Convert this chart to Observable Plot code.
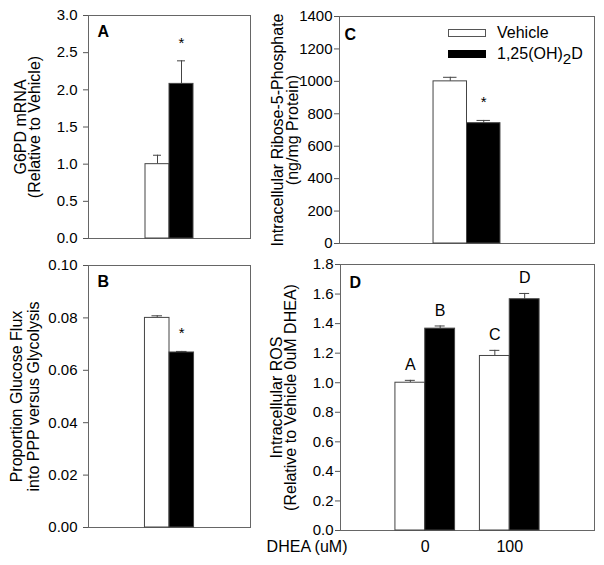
<!DOCTYPE html>
<html><head><meta charset="utf-8">
<script src="https://cdn.jsdelivr.net/npm/d3@7"></script>
<script src="https://cdn.jsdelivr.net/npm/@observablehq/plot@0.6"></script>
<style>
body{margin:0;background:#fff;}
#wrap{position:relative;width:604px;height:565px;font-family:"Liberation Sans",Arial,sans-serif;overflow:hidden;}
#wrap > svg, #wrap > div.pos {position:absolute;}
.legend{font-size:16px;color:#000;}
.legend .row{display:flex;align-items:center;height:21px;}
.legend .sw{width:36px;height:6px;border:1px solid #555;margin-right:11px;}
.legend sub{font-size:0.95em;vertical-align:-0.3em;line-height:0;}
</style></head><body><div id="wrap"></div>
<script>
// ---- shared categories ----
const treatments = ["Vehicle", "1,25(OH)2D"];
const treatmentColors = ["white", "black"];

// ---- Panel A: G6PD mRNA ----
const aValues = [1.00, 2.08];
const aErrors = [0.12, 0.31];
const aMarks = ["", "*"];
const aTicks = [0, 0.5, 1.0, 1.5, 2.0, 2.5, 3.0];

// ---- Panel B: glucose flux proportion ----
const bValues = [0.0800, 0.0668];
const bErrors = [0.0008, 0.0004];
const bMarks = ["", "*"];
const bTicks = [0, 0.02, 0.04, 0.06, 0.08, 0.10];

// ---- Panel C: ribose-5-phosphate ----
const cValues = [1000, 742];
const cErrors = [25, 17];
const cMarks = ["", "*"];
const cTicks = [0, 200, 400, 600, 800, 1000, 1200, 1400];

// ---- Panel D: ROS by DHEA dose ----
const doses = ["0", "100"];
const dVehicle = [1.000, 1.181];
const dVehicleErr = [0.016, 0.038];
const dTreated = [1.366, 1.565];
const dTreatedErr = [0.018, 0.039];
const dVehicleLetters = ["A", "C"];
const dTreatedLetters = ["B", "D"];
const dTicks = [0, 0.2, 0.4, 0.6, 0.8, 1.0, 1.2, 1.4, 1.6, 1.8];

const FONT = "'Liberation Sans', Arial, sans-serif";
const wrap = document.getElementById("wrap");

function ylabelMarks(lines, dxs) {
  return lines.map((t, i) => Plot.text([t], {
    frameAnchor: "left", rotate: -90, dx: dxs[i], lineAnchor: "bottom", textAnchor: "middle",
    fontSize: 16, fill: "black"
  }));
}

function place(plot, pos) {
  plot.style.left = pos[0] + "px";
  plot.style.top = pos[1] + "px";
  wrap.appendChild(plot);
}

function simplePanel(o) {
  const data = treatments.map((t, i) => ({t, v: o.values[i], e: o.values[i] + o.errors[i], s: o.marks[i]}));
  const plot = Plot.plot({
    width: o.width, height: o.height,
    marginLeft: o.m[0], marginRight: o.m[1], marginTop: o.m[2], marginBottom: o.m[3],
    style: {fontFamily: FONT, fontSize: "15px", color: "black", background: "transparent", overflow: "visible"},
    x: {domain: treatments, paddingInner: 0, paddingOuter: o.pad, round: false, axis: null},
    y: {domain: [o.ticks[0], o.ticks[o.ticks.length - 1]], axis: null},
    color: {domain: treatments, range: treatmentColors},
    marks: [
      Plot.frame({stroke: "#666"}),
      Plot.axisY(o.ticks, {tickSize: 5, tickPadding: o.tp, tickFormat: o.fmt, stroke: "#555", fill: "black", label: null}),
      Plot.ruleX(data, {x: "t", y1: "v", y2: "e", stroke: "#444"}),
      Plot.tickY(data, {x: "t", y: "e", stroke: "#444", insetLeft: o.cap, insetRight: o.cap}),
      Plot.barY(data, {x: "t", y: "v", fill: "t", stroke: "#444"}),
      Plot.text(data.filter(d => d.s), {x: "t", y: "e", text: "s", dy: -13, lineAnchor: "bottom", fontSize: 15}),
      Plot.text([o.letter], {frameAnchor: "top-left", dx: o.ld[0], dy: o.ld[1], lineAnchor: "top", textAnchor: "start", fontWeight: "bold", fontSize: 16}),
      ...ylabelMarks(o.ylabel, o.ydx)
    ]
  });
  place(plot, o.pos);
}

simplePanel({values: aValues, errors: aErrors, marks: aMarks, ticks: aTicks, fmt: d3.format(".1f"),
  width: 255, height: 260, m: [88, 5, 15, 22], pad: 2.375, cap: 8, tp: 6, pos: [0, 0],
  letter: "A", ld: [9, 10], ylabel: ["G6PD mRNA", "(Relative to Vehicle)"], ydx: [-63, -48.5]});

simplePanel({values: cValues, errors: cErrors, marks: cMarks, ticks: cTicks, fmt: d3.format("d"),
  width: 349, height: 260, m: [84, 10, 16, 17], pad: 2.81, cap: 10, tp: 2, pos: [255, 0],
  letter: "C", ld: [5, 12], ylabel: ["Intracellular Ribose-5-Phosphate", "(ng/mg Protein)"], ydx: [-57, -42]});

simplePanel({values: bValues, errors: bErrors, marks: bMarks, ticks: bTicks, fmt: d3.format(".2f"),
  width: 255, height: 315, m: [88, 5, 15, 38], pad: 2.3, cap: 7, tp: 6, pos: [0, 250],
  letter: "B", ld: [9, 10], ylabel: ["Proportion Glucose Flux", "into PPP versus Glycolysis"], ydx: [-66.5, -50]});

// Panel D: one band per DHEA dose, each split into a Vehicle half and a 1,25(OH)2D half
{
  const W = 349, H = 315, mL = 85, mR = 10, mT = 14, mB = 35;
  const padIn = 0.294, padOut = 0.65;
  const bw = d3.scaleBand().domain(doses).range([mL, W - mR]).paddingInner(padIn).paddingOuter(padOut).bandwidth();
  const half = bw / 2, q = bw / 4, capHalf = 5;
  const veh = doses.map((g, i) => ({g, v: dVehicle[i], e: dVehicle[i] + dVehicleErr[i], s: dVehicleLetters[i], t: treatments[0]}));
  const trt = doses.map((g, i) => ({g, v: dTreated[i], e: dTreated[i] + dTreatedErr[i], s: dTreatedLetters[i], t: treatments[1]}));
  const part = (data, side) => {
    const d = side * q;
    const near = q - capHalf, far = 3 * q - capHalf;
    return [
      Plot.ruleX(data, {x: "g", y1: "v", y2: "e", dx: d, stroke: "#444"}),
      Plot.tickY(data, {x: "g", y: "e", stroke: "#444", insetLeft: side < 0 ? near : far, insetRight: side < 0 ? far : near}),
      Plot.barY(data, {x: "g", y: "v", fill: "t", stroke: "#444", insetLeft: side > 0 ? half : 0, insetRight: side < 0 ? half : 0}),
      Plot.text(data, {x: "g", y: "e", text: "s", dx: d, dy: -10, lineAnchor: "bottom", fontSize: 16})
    ];
  };
  const plot = Plot.plot({
    width: W, height: H,
    marginLeft: mL, marginRight: mR, marginTop: mT, marginBottom: mB,
    style: {fontFamily: FONT, fontSize: "15px", color: "black", background: "transparent", overflow: "visible"},
    x: {domain: doses, paddingInner: padIn, paddingOuter: padOut, round: false, axis: null},
    y: {domain: [0, 1.8], axis: null},
    color: {domain: treatments, range: treatmentColors},
    marks: [
      Plot.frame({stroke: "#666"}),
      Plot.axisY(dTicks, {tickSize: 5, tickPadding: 2, tickFormat: d3.format(".1f"), stroke: "#555", fill: "black", label: null}),
      Plot.axisX({tickSize: 0, tickPadding: 10, fontSize: 16, label: null}),
      ...part(veh, -1),
      ...part(trt, 1),
      Plot.text(["D"], {frameAnchor: "top-left", dx: 9, dy: 12, lineAnchor: "top", textAnchor: "start", fontWeight: "bold", fontSize: 16}),
      Plot.text(["DHEA (uM)"], {frameAnchor: "bottom-left", dx: 7, dy: 10, lineAnchor: "top", textAnchor: "end", fontSize: 16}),
      ...ylabelMarks(["Intracellular ROS", "(Relative to Vehicle 0uM DHEA)"], [-59, -44.5])
    ]
  });
  place(plot, [255, 250]);
}

// Legend (inside panel C)
{
  const leg = document.createElement("div");
  leg.className = "pos legend";
  leg.style.left = "448px";
  leg.style.top = "22px";
  treatments.forEach((t, i) => {
    const row = document.createElement("div");
    row.className = "row";
    const sw = document.createElement("span");
    sw.className = "sw";
    sw.style.background = treatmentColors[i];
    if (treatmentColors[i] === "black") sw.style.borderColor = "black";
    row.appendChild(sw);
    const lab = document.createElement("span");
    const m = t.match(/^(.*\(OH\))(2)(D)$/);
    if (m) {
      lab.appendChild(document.createTextNode(m[1]));
      const sub = document.createElement("sub"); sub.textContent = m[2];
      lab.appendChild(sub);
      lab.appendChild(document.createTextNode(m[3]));
    } else lab.textContent = t;
    row.appendChild(lab);
    leg.appendChild(row);
  });
  wrap.appendChild(leg);
}
</script></body></html>
